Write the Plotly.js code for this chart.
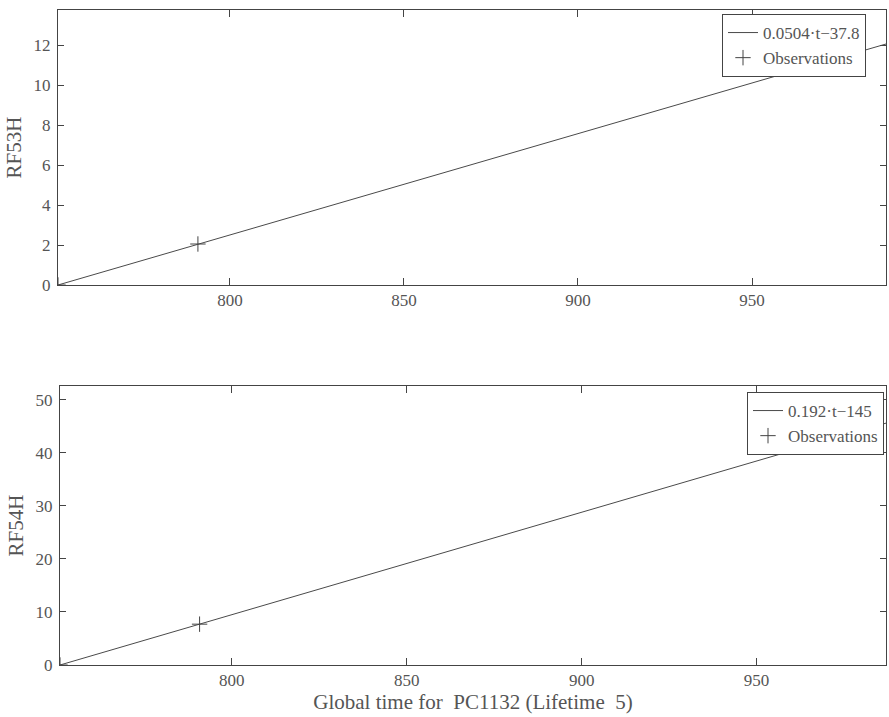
<!DOCTYPE html>
<html>
<head>
<meta charset="utf-8">
<script src="https://cdn.plot.ly/plotly-3.0.1.min.js"></script>
<style>html,body{margin:0;padding:0;background:#fff;}#chart{width:889px;height:717px;}</style>
</head>
<body>
<div id="chart"></div>
<script>
// Top panel (RF53H)
const fitTopT = [750.6, 988.5];
const fitTopV = [0, 12.05];
const obsTopT = [750.6, 790.8];
const obsTopV = [0, 2.05];
const fitTopLabel = "0.0504\u00b7t\u221237.8";

// Bottom panel (RF54H)
const fitBotT = [750.9, 987];
const fitBotV = [0, 45.6];
const obsBotT = [750.9, 790.8];
const obsBotV = [0, 7.7];
const fitBotLabel = "0.192\u00b7t\u2212145";

const obsLabel = "Observations";
const xTickVals = [800, 850, 900, 950];
const yTopTicks = [0, 2, 4, 6, 8, 10, 12];
const yBotTicks = [0, 10, 20, 30, 40, 50];
const yTopTitle = "RF53H";
const yBotTitle = "RF54H";
const xTitle = "Global time for\u00a0 PC1132 (Lifetime\u00a0 5)";

const FONT = "Liberation Serif";
const TXT = "#555";
const AX = "#444";
const W = 889, H = 717;

const lineStyle = {color: "#4a4a4a", width: 1};
const markerStyle = {symbol: "cross-thin", size: 11, line: {color: "#444", width: 1}, color: "#444"};

const traces = [
  {x: fitTopT, y: fitTopV, mode: "lines", line: lineStyle, name: fitTopLabel, xaxis: "x", yaxis: "y", legend: "legend"},
  {x: obsTopT, y: obsTopV, mode: "markers", marker: markerStyle, name: obsLabel, xaxis: "x", yaxis: "y", legend: "legend"},
  {x: fitBotT, y: fitBotV, mode: "lines", line: lineStyle, name: fitBotLabel, xaxis: "x2", yaxis: "y2", legend: "legend2"},
  {x: obsBotT, y: obsBotV, mode: "markers", marker: markerStyle, name: obsLabel, xaxis: "x2", yaxis: "y2", legend: "legend2"}
];

function xax(dom, anchor, range, title) {
  const a = {
    domain: dom, anchor: anchor, range: range,
    tickvals: xTickVals, ticks: "inside", ticklen: 7, tickcolor: AX, mirror: "allticks",
    showline: true, linecolor: AX, linewidth: 1, showgrid: false, zeroline: false,
    tickfont: {family: FONT, size: 17, color: TXT}, ticklabelstandoff: 0,
    automargin: false
  };
  if (title) a.title = {text: title, font: {family: FONT, size: 21, color: TXT}, standoff: 0};
  return a;
}
function yax(dom, anchor, range, ticks, title) {
  return {
    domain: dom, anchor: anchor, range: range,
    tickvals: ticks, ticks: "inside", ticklen: 6, tickcolor: AX, mirror: "allticks",
    showline: true, linecolor: AX, linewidth: 1, showgrid: false, zeroline: false,
    tickfont: {family: FONT, size: 17, color: TXT}, ticklabelstandoff: 3,
    title: {text: title, font: {family: FONT, size: 21, color: TXT}, standoff: 6},
    automargin: false
  };
}

function leg(xr, yt) {
  return {x: xr / W, y: 1 - yt / H, xanchor: "right", yanchor: "top",
    bgcolor: "#fff", bordercolor: AX, borderwidth: 1,
    font: {family: FONT, size: 17, color: TXT}, tracegroupgap: 0, itemwidth: 30};
}

const layout = {
  width: W, height: H,
  margin: {l: 0, r: 0, t: 0, b: 0},
  paper_bgcolor: "#fff", plot_bgcolor: "#fff",
  font: {family: FONT, color: TXT},
  xaxis: xax([58 / W, 886 / W], "y", [750.6, 988.5], null),
  yaxis: yax([1 - 285 / H, 1 - 10 / H], "x", [0, 13.75], yTopTicks, yTopTitle),
  xaxis2: xax([60 / W, 886 / W], "y2", [750.9, 987], xTitle),
  yaxis2: yax([1 - 665 / H, 1 - 386 / H], "x2", [0, 52.6], yBotTicks, yBotTitle),
  legend: leg(866, 14),
  legend2: leg(884, 392),
  showlegend: true
};

Plotly.newPlot("chart", traces, layout, {displayModeBar: false, staticPlot: true});
</script>
</body>
</html>
